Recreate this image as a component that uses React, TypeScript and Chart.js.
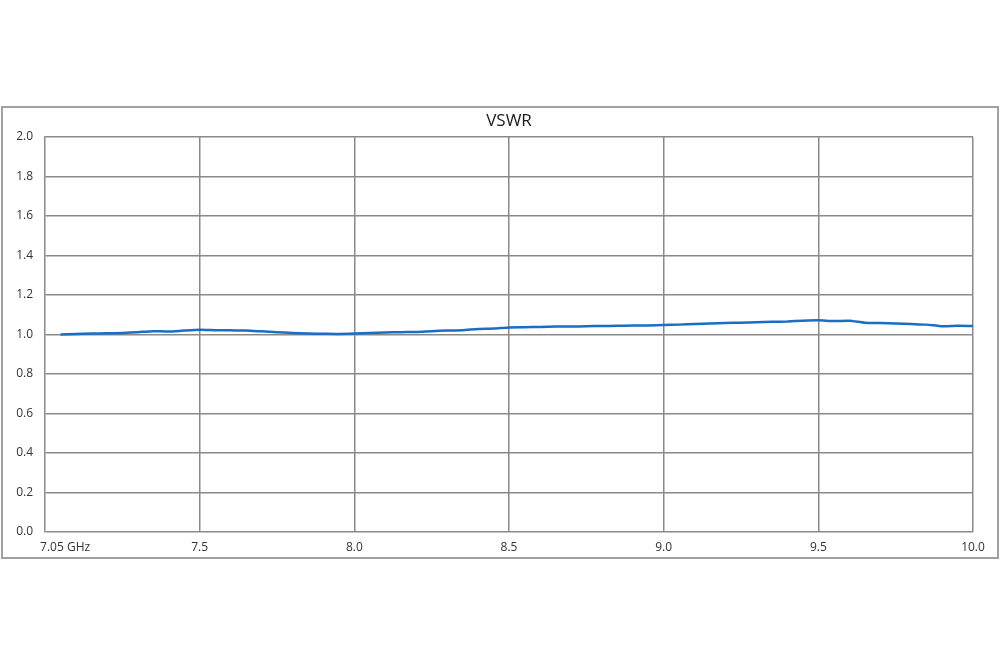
import React, { useEffect, useRef } from "react";
import { Chart, registerables } from "chart.js";

Chart.register(...registerables);

const freqGHz = [
  7.05, 7.1, 7.15, 7.2, 7.25, 7.3, 7.35, 7.4, 7.45, 7.5,
  7.55, 7.6, 7.65, 7.7, 7.75, 7.8, 7.85, 7.9, 7.95, 8.0,
  8.05, 8.1, 8.15, 8.2, 8.25, 8.3, 8.35, 8.4, 8.45, 8.5,
  8.55, 8.6, 8.65, 8.7, 8.75, 8.8, 8.85, 8.9, 8.95, 9.0,
  9.05, 9.1, 9.15, 9.2, 9.25, 9.3, 9.35, 9.4, 9.45, 9.5,
  9.55, 9.6, 9.65, 9.7, 9.75, 9.8, 9.85, 9.9, 9.95, 10.0,
];

const vswr = [
  1.0, 1.003, 1.005, 1.006, 1.008, 1.012, 1.017, 1.015, 1.02, 1.024,
  1.022, 1.021, 1.02, 1.016, 1.012, 1.008, 1.005, 1.004, 1.003, 1.005,
  1.008, 1.01, 1.012, 1.013, 1.017, 1.02, 1.022, 1.028, 1.03, 1.036,
  1.037, 1.038, 1.04, 1.04, 1.042, 1.043, 1.044, 1.045, 1.046, 1.048,
  1.05, 1.053, 1.056, 1.058, 1.06, 1.062, 1.064, 1.066, 1.07, 1.072,
  1.068, 1.07, 1.06, 1.058, 1.056, 1.053, 1.05, 1.042, 1.044, 1.043,
];

const xTickValues = [7.065, 7.5, 8.0, 8.5, 9.0, 9.5, 10.0];
const xTickLabels = ["7.05 GHz", "7.5", "8.0", "8.5", "9.0", "9.5", "10.0"];

const titleText = "VSWR";
const FONT = "'Open Sans', 'DejaVu Sans', sans-serif";

export default function App() {
  const ref = useRef<HTMLCanvasElement | null>(null);

  useEffect(() => {
    if (!ref.current) return;
    const framePlugin = {
      id: "frame",
      beforeDraw(chart: any) {
        const ctx = chart.ctx;
        ctx.save();
        ctx.fillStyle = "#ffffff";
        ctx.fillRect(0, 0, chart.width, chart.height);
        ctx.strokeStyle = "#a0a0a0";
        ctx.lineWidth = 2;
        ctx.strokeRect(2, 107, 996, 451);
        ctx.restore();
      },
      afterDraw(chart: any) {
        const ctx = chart.ctx;
        const a = chart.chartArea;
        ctx.save();
        ctx.fillStyle = "#1a1a1a";
        ctx.font = `17px ${FONT}`;
        ctx.textAlign = "center";
        ctx.textBaseline = "middle";
        ctx.fillText(titleText, (a.left + a.right) / 2, 121);
        ctx.restore();
      },
    };

    const chart = new Chart(ref.current, {
      type: "line",
      data: {
        datasets: [
          {
            label: titleText,
            data: freqGHz.map((f, i) => ({ x: f, y: vswr[i] })),
            borderColor: "#1a6ec4",
            borderWidth: 2.5,
            pointRadius: 0,
            tension: 0.2,
            fill: false,
          },
        ],
      },
      options: {
        animation: false,
        responsive: false,
        layout: { padding: { left: 0, top: 137, right: 27, bottom: 0 } },
        plugins: { legend: { display: false }, title: { display: false }, tooltip: { enabled: false } },
        scales: {
          x: {
            type: "linear",
            min: 7.0,
            max: 10.0,
            afterBuildTicks: (scale: any) => {
              scale.ticks = xTickValues.map((v) => ({ value: v }));
            },
            afterFit: (scale: any) => {
              scale.height = 135;
            },
            grid: {
              drawTicks: false,
              lineWidth: 1.5,
              color: (c: any) => (c.tick && c.tick.value === 7.065 ? "rgba(0,0,0,0)" : "#8a8a8a"),
            },
            border: { display: false },
            ticks: {
              autoSkip: false,
              maxRotation: 0,
              padding: 8,
              color: "#333333",
              font: { family: FONT, size: 12 },
              callback: (v: any) => {
                const idx = xTickValues.indexOf(Number(v));
                return idx >= 0 ? xTickLabels[idx] : "";
              },
            },
          },
          y: {
            min: 0,
            max: 2,
            afterFit: (scale: any) => {
              scale.width = 45;
            },
            grid: { drawTicks: false, lineWidth: 1.5, color: "#8a8a8a" },
            border: { display: true, color: "#8a8a8a", width: 1.5 },
            ticks: {
              stepSize: 0.2,
              padding: 12,
              color: "#333333",
              font: { family: FONT, size: 12 },
              callback: (v: any) => Number(v).toFixed(1),
            },
          },
        },
      },
      plugins: [framePlugin],
    });
    return () => chart.destroy();
  }, []);

  return (
    <div style={{ position: "fixed", left: 0, top: 0, width: 1000, height: 667, background: "#fff" }}>
      <canvas ref={ref} width={1000} height={667} style={{ display: "block" }} />
    </div>
  );
}
